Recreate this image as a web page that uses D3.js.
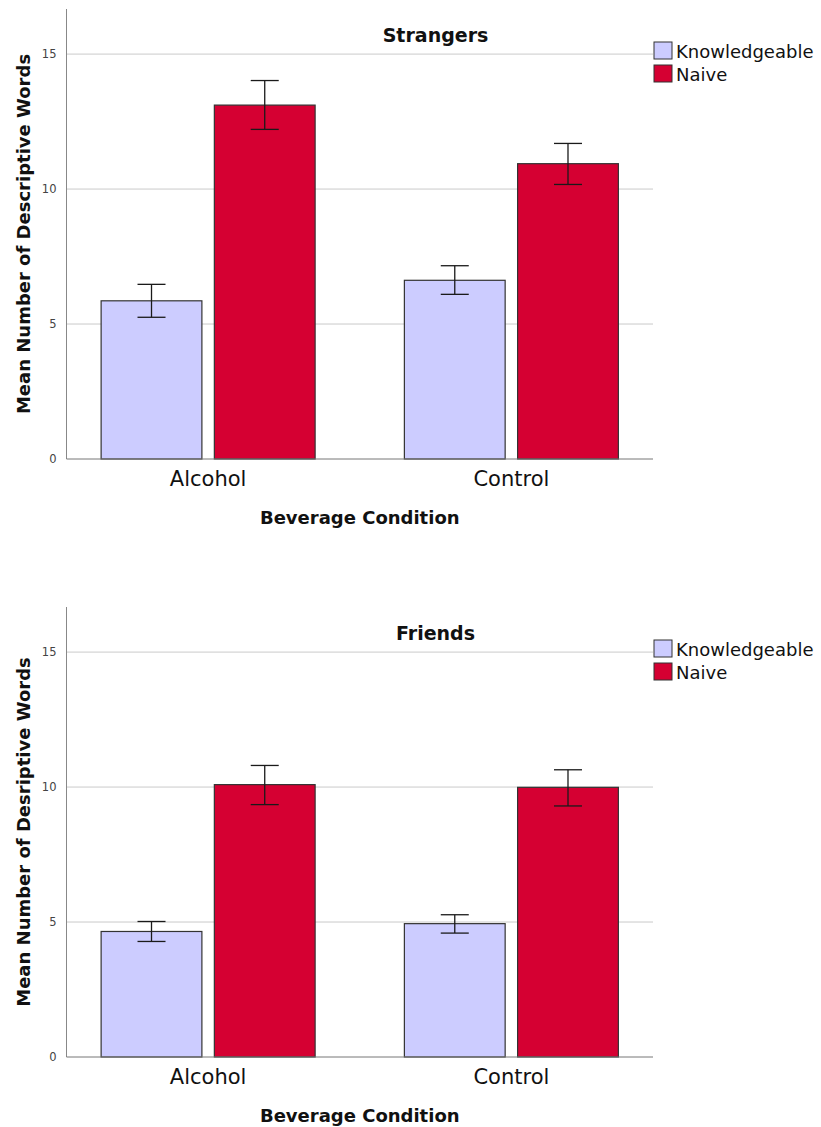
<!DOCTYPE html>
<html>
<head>
<meta charset="utf-8">
<script src="https://cdn.jsdelivr.net/npm/d3@7"></script>
<style>
  body { margin: 0; background: #fff; }
  svg { display: block; font-family: "DejaVu Sans", sans-serif; }
</style>
</head>
<body>
<div id="chart"></div>
<script>
// categories and series
const categories = ["Alcohol", "Control"];
const seriesNames = ["Knowledgeable", "Naive"];
const yTicks = [0, 5, 10, 15];
const yMax = 16.67;

// Strangers panel: means and error bar ends [low, high]
const strangersKnow = [5.86, 6.62];
const strangersKnowErr = [[5.25, 6.47], [6.10, 7.16]];
const strangersNaive = [13.11, 10.94];
const strangersNaiveErr = [[12.21, 14.02], [10.17, 11.69]];

// Friends panel
const friendsKnow = [4.65, 4.94];
const friendsKnowErr = [[4.28, 5.02], [4.59, 5.27]];
const friendsNaive = [10.09, 9.99];
const friendsNaiveErr = [[9.35, 10.80], [9.30, 10.64]];

const colors = { Knowledgeable: "#ccccff", Naive: "#d50032" };

const W = 821, H = 1127;
const svg = d3.select("#chart").append("svg")
    .attr("width", W)
    .attr("height", H);

function drawPanel(top, title, yLabel, know, knowErr, naive, naiveErr) {
    const plotLeft = 66.5, plotRight = 653;
    const plotTop = top, plotBottom = top + 450;

    const g = svg.append("g");

    const x = d3.scalePoint()
        .domain(categories)
        .range([plotLeft, plotRight])
        .padding(0.467);
    const xs = d3.scaleBand()
        .domain(seriesNames)
        .range([-107, 107])
        .paddingInner(0.11);
    const y = d3.scaleLinear()
        .domain([0, yMax])
        .range([plotBottom, plotTop]);

    // gridlines
    g.selectAll("line.grid")
        .data(yTicks.filter(t => t > 0))
        .enter().append("line")
        .attr("class", "grid")
        .attr("x1", plotLeft).attr("x2", plotRight)
        .attr("y1", d => y(d)).attr("y2", d => y(d))
        .attr("stroke", "#cacaca")
        .attr("stroke-width", 1);

    // y tick labels
    g.selectAll("text.ytick")
        .data(yTicks)
        .enter().append("text")
        .attr("class", "ytick")
        .attr("x", plotLeft - 10)
        .attr("y", d => y(d) + 4)
        .attr("text-anchor", "end")
        .attr("font-size", 11.5)
        .attr("fill", "#444")
        .text(d => d);

    // rows for bars
    const rows = [];
    categories.forEach((c, i) => {
        rows.push({ cat: c, s: "Knowledgeable", v: know[i], err: knowErr[i] });
        rows.push({ cat: c, s: "Naive", v: naive[i], err: naiveErr[i] });
    });

    g.selectAll("rect.bar")
        .data(rows)
        .enter().append("rect")
        .attr("class", "bar")
        .attr("x", d => x(d.cat) + xs(d.s))
        .attr("y", d => y(d.v))
        .attr("width", xs.bandwidth())
        .attr("height", d => y(0) - y(d.v))
        .attr("fill", d => colors[d.s])
        .attr("stroke", "#333")
        .attr("stroke-width", 1.2);

    // error bars
    const eb = g.selectAll("g.err")
        .data(rows)
        .enter().append("g")
        .attr("class", "err")
        .attr("stroke", "#1a1a1a")
        .attr("stroke-width", 1.3);
    const cx = d => x(d.cat) + xs(d.s) + xs.bandwidth() / 2;
    eb.append("line")
        .attr("x1", cx).attr("x2", cx)
        .attr("y1", d => y(d.err[0])).attr("y2", d => y(d.err[1]));
    eb.append("line")
        .attr("x1", d => cx(d) - 14).attr("x2", d => cx(d) + 14)
        .attr("y1", d => y(d.err[1])).attr("y2", d => y(d.err[1]));
    eb.append("line")
        .attr("x1", d => cx(d) - 14).attr("x2", d => cx(d) + 14)
        .attr("y1", d => y(d.err[0])).attr("y2", d => y(d.err[0]));

    // axes lines
    g.append("line")
        .attr("x1", plotLeft).attr("x2", plotLeft)
        .attr("y1", plotTop).attr("y2", plotBottom)
        .attr("stroke", "#888");
    g.append("line")
        .attr("x1", plotLeft).attr("x2", plotRight)
        .attr("y1", plotBottom).attr("y2", plotBottom)
        .attr("stroke", "#777");

    // category labels
    g.selectAll("text.xtick")
        .data(categories)
        .enter().append("text")
        .attr("class", "xtick")
        .attr("x", d => x(d))
        .attr("y", plotBottom + 27)
        .attr("text-anchor", "middle")
        .attr("font-size", 21)
        .attr("fill", "#111")
        .text(d => d);

    // axis titles
    g.append("text")
        .attr("x", (plotLeft + plotRight) / 2)
        .attr("y", plotBottom + 65)
        .attr("text-anchor", "middle")
        .attr("font-size", 18)
        .attr("font-weight", "bold")
        .attr("fill", "#111")
        .text("Beverage Condition");
    g.append("text")
        .attr("transform", `translate(30, ${(plotTop + plotBottom) / 2}) rotate(-90)`)
        .attr("text-anchor", "middle")
        .attr("font-size", 18)
        .attr("font-weight", "bold")
        .attr("fill", "#111")
        .text(yLabel);

    // panel title
    g.append("text")
        .attr("x", 435.5)
        .attr("y", plotTop + 33)
        .attr("text-anchor", "middle")
        .attr("font-size", 19)
        .attr("font-weight", "bold")
        .attr("fill", "#111")
        .text(title);

    // legend
    const lg = g.selectAll("g.legend")
        .data(seriesNames)
        .enter().append("g")
        .attr("class", "legend")
        .attr("transform", (d, i) => `translate(654, ${plotTop + 33 + i * 23})`);
    lg.append("rect")
        .attr("width", 18).attr("height", 17)
        .attr("fill", d => colors[d])
        .attr("stroke", "#333");
    lg.append("text")
        .attr("x", 22)
        .attr("y", 16)
        .attr("font-size", 18)
        .attr("fill", "#111")
        .text(d => d);
}

drawPanel(9, "Strangers", "Mean Number of Descriptive Words",
    strangersKnow, strangersKnowErr, strangersNaive, strangersNaiveErr);
drawPanel(607, "Friends", "Mean Number of Desriptive Words",
    friendsKnow, friendsKnowErr, friendsNaive, friendsNaiveErr);
</script>
</body>
</html>
